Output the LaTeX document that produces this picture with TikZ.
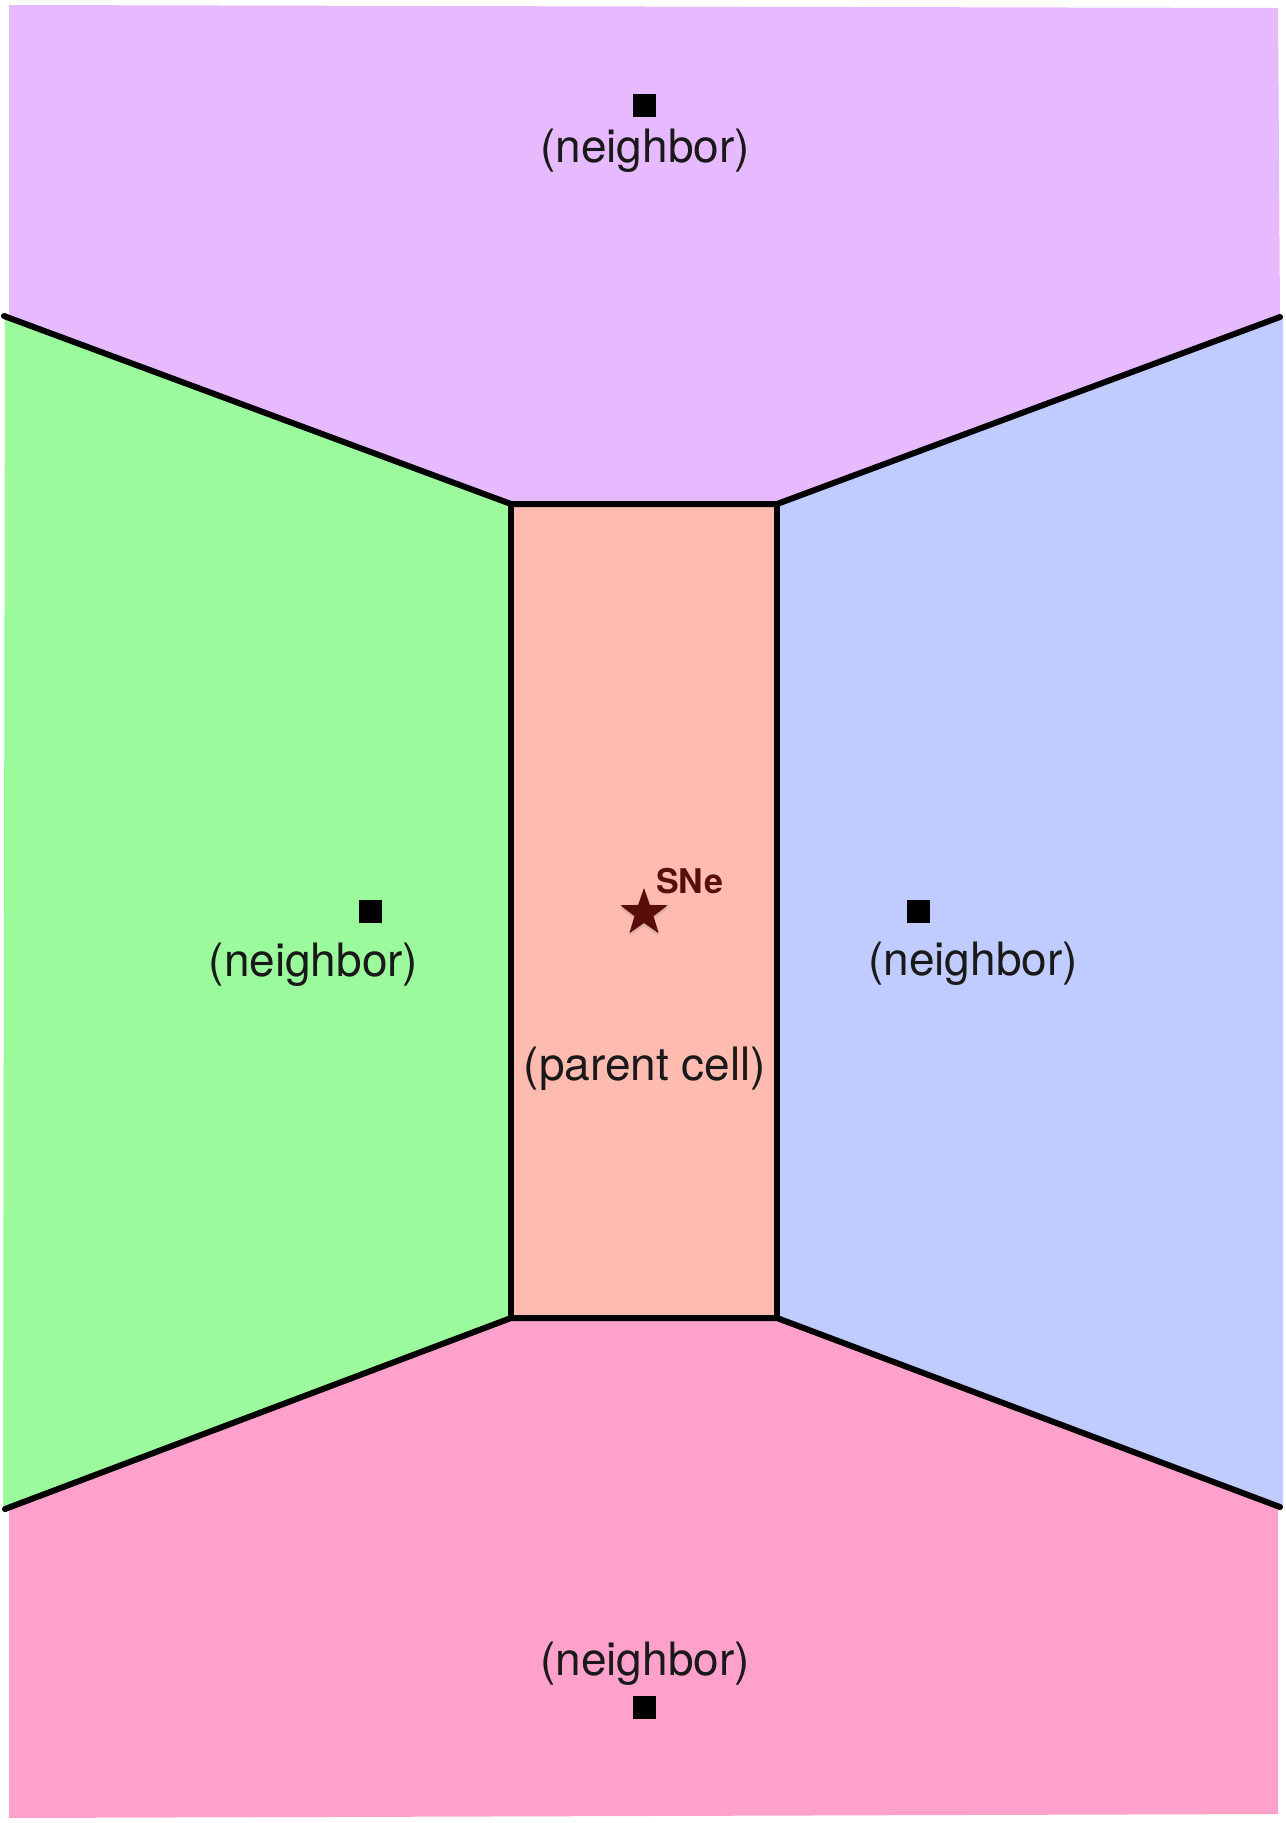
\documentclass[tikz,border=0pt]{standalone}
\usepackage{fontspec}
\setmainfont{TeX Gyre Heros}
\usetikzlibrary{shapes.geometric,shadows}
\definecolor{cpurple}{RGB}{231,185,255}
\definecolor{cgreen}{RGB}{155,250,155}
\definecolor{cblue}{RGB}{192,204,255}
\definecolor{csalmon}{RGB}{255,187,175}
\definecolor{cpink}{RGB}{255,161,203}
\definecolor{cstar}{RGB}{88,14,10}
\definecolor{ctext}{RGB}{25,25,25}
\tikzset{
  wall/.style={draw=black,line width=6pt,line cap=round,line join=round},
  site/.style={fill=black,minimum size=23pt,inner sep=0pt,outer sep=0pt},
  lbl/.style={anchor=base,inner sep=0pt,text=ctext,font=\fontsize{46}{55}\selectfont},
}
\begin{document}
\begin{tikzpicture}[x=1pt,y=-1pt]
\useasboundingbox (0,0) rectangle (1285,1823);
% corner coordinates
\coordinate (tl) at (511,504);
\coordinate (tr) at (777,504);
\coordinate (bl) at (511,1318);
\coordinate (br) at (777,1318);
\coordinate (el1) at (4,316);
\coordinate (er1) at (1280,317);
\coordinate (el2) at (5,1509);
\coordinate (er2) at (1280,1507);
% regions
\fill[cpurple] (9,5) -- (1278,8) -- (er1) -- (tr) -- (tl) -- (el1) -- (9,316) -- cycle;
\fill[cgreen] (el1) -- (tl) -- (bl) -- (el2) -- (3,1509) -- (5,316) -- cycle;
\fill[cblue] (tr) -- (er1) -- (1283,317) -- (1283,1507) -- (er2) -- (br) -- cycle;
\fill[cpink] (bl) -- (br) -- (er2) -- (1278,1507) -- (1278,1814) -- (9,1818) -- (9,1509) -- (el2) -- cycle;
\fill[csalmon] (tl) rectangle (br);
% walls
\draw[wall] (el1) -- (tl) -- (tr) -- (er1);
\draw[wall] (el2) -- (bl) -- (br) -- (er2);
\draw[wall] (tl) -- (bl);
\draw[wall] (tr) -- (br);
% neighbor sites and labels
\node[site] (ntop) at (644,105) {};
\node[lbl] (ltop) at (645,162) {(neighbor)};
\node[site] (nleft) at (370.5,911.5) {};
\node[lbl] (lleft) at (313.5,976) {(neighbor)};
\node[site] (nright) at (918,911) {};
\node[lbl] (lright) at (973,975) {(neighbor)};
\node[site] (nbot) at (644,1707) {};
\node[lbl] (lbot) at (645,1675) {(neighbor)};
% parent cell
\node[lbl] (lpar) at (645,1080) {(parent cell)};
\node[star,star points=5,star point ratio=2.5,fill=cstar,minimum size=50pt,inner sep=0pt,
      drop shadow={opacity=0.25,shadow xshift=0pt,shadow yshift=-3pt}] (sn) at (644,913) {};
\node[anchor=base west,inner sep=0pt,text=cstar,font=\fontsize{34}{40}\selectfont\bfseries] (snl) at (656,893) {SNe};
\end{tikzpicture}
\end{document}
